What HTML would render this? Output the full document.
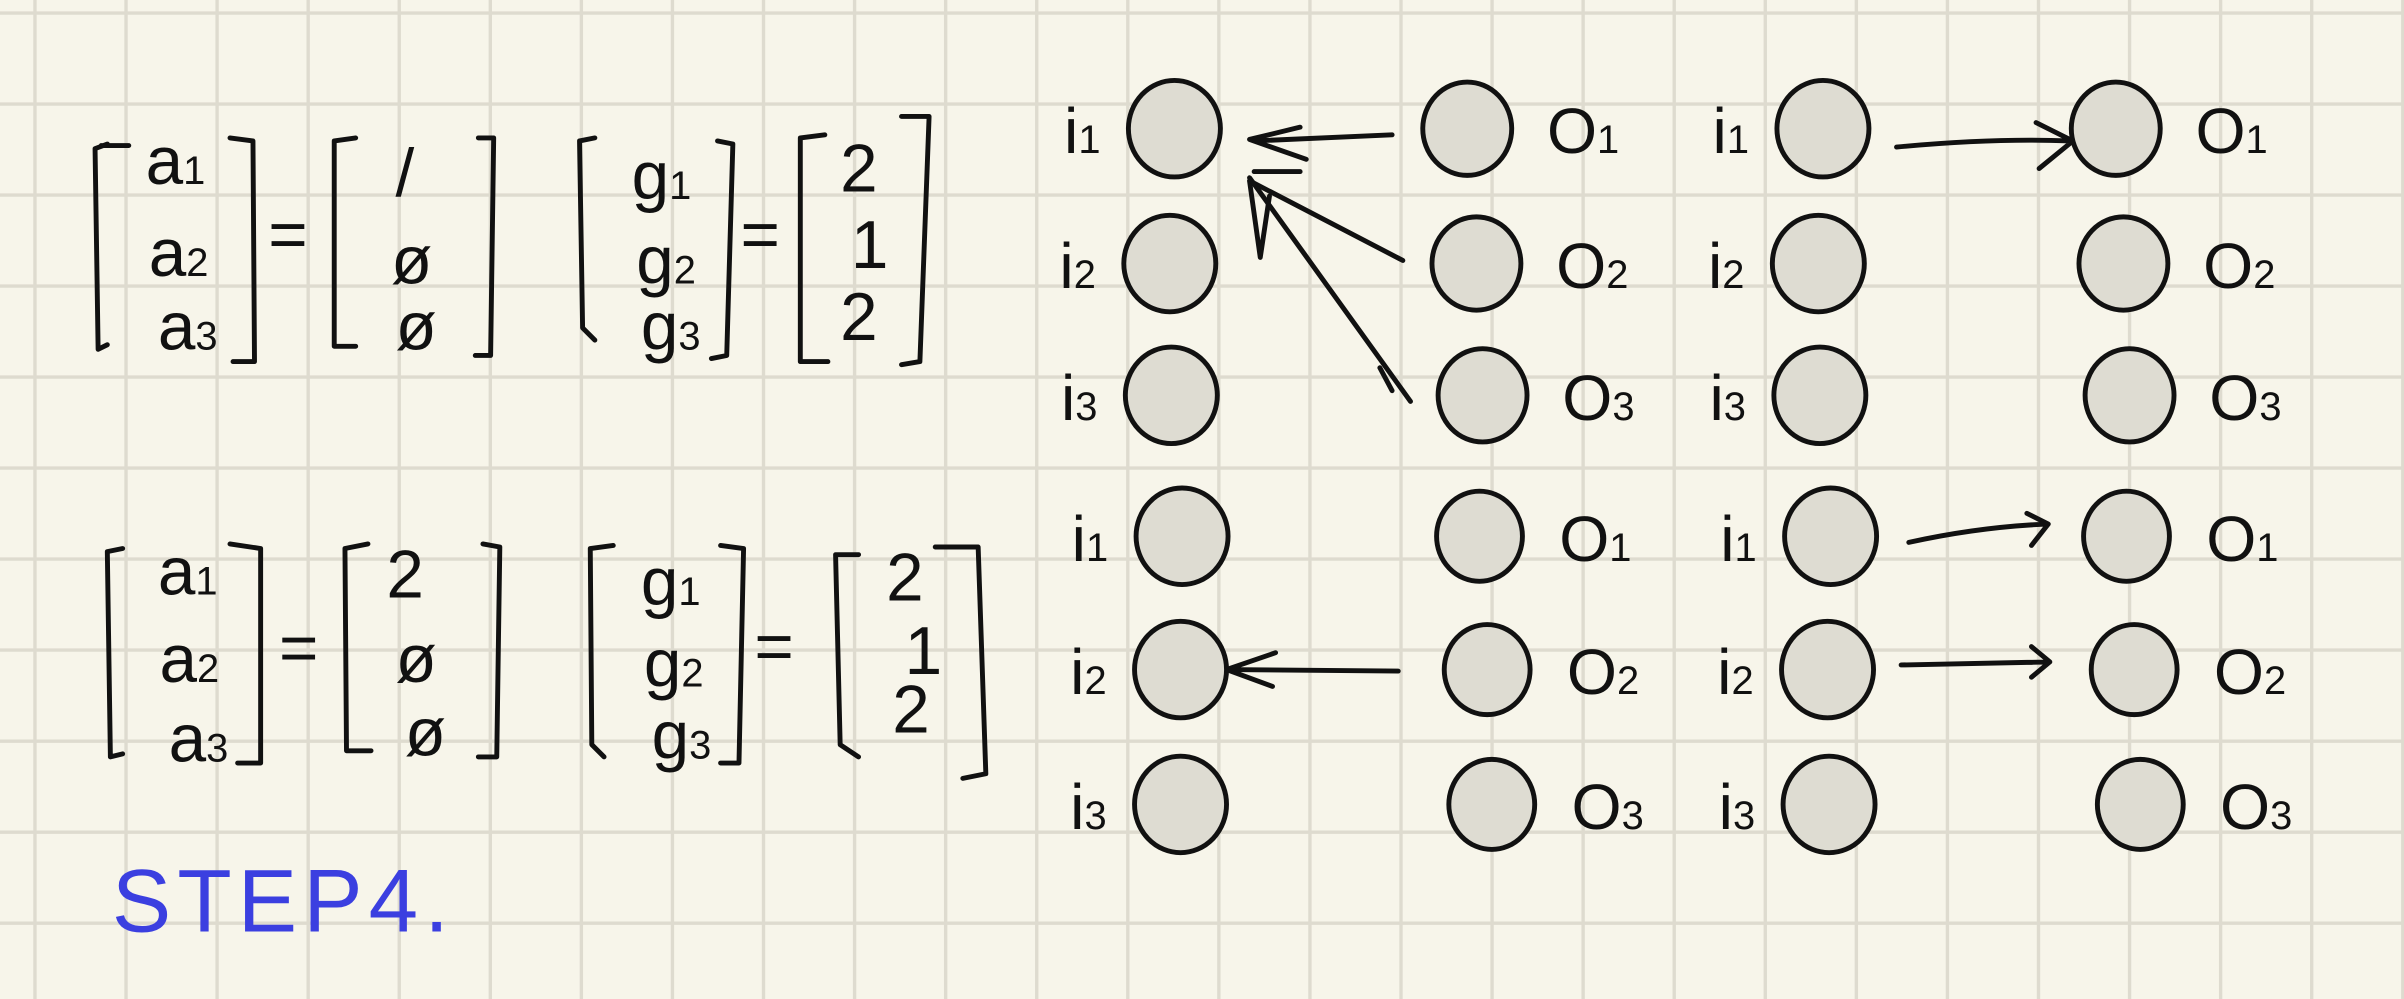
<!DOCTYPE html>
<html><head><meta charset="utf-8"><style>
html,body{margin:0;padding:0;background:#f7f5ea;}
svg{display:block;}
text{font-family:"Liberation Sans",sans-serif;fill:#111;}
</style></head><body>
<svg id="s" width="2404" height="999" viewBox="0 0 1568 652" preserveAspectRatio="none" xmlns="http://www.w3.org/2000/svg">
<rect width="1568" height="652" fill="#f7f5ea"/>
<g id="grid" stroke="#dedbcf" stroke-width="2.2"></g>
<g id="ink" fill="none" stroke="#111" stroke-width="3.2" stroke-linecap="round" stroke-linejoin="round">
<!-- matrix row 1 -->
<path d="M70 94 L62 97 L64 228 L70 225 M66 95 L84 95 M150 90 L165 92 L166 236 L152 236"/>
<path d="M232 90 L218 92 L218 226 L232 226 M312 90 L322 90 L320 232 L310 232"/>
<path d="M388 90 L378 92 L380 214 L388 222 M468 92 L478 94 L474 232 L464 234"/>
<path d="M538 88 L522 90 L522 236 L540 236 M588 76 L606 76 L600 236 L588 238"/>
<path d="M80 358 L70 360 L72 494 L80 492 M150 355 L170 358 L170 498 L155 498"/>
<path d="M240 355 L225 358 L226 490 L242 490 M315 355 L326 357 L324 494 L312 494"/>
<path d="M400 356 L385 358 L386 486 L394 494 M470 356 L485 358 L482 498 L470 498"/>
<path d="M560 362 L545 362 L548 486 L560 494 M610 357 L638 357 L643 505 L628 508"/>
<!-- arrows -->
<path d="M908 88 L818 92 M848 83 L815 91 L852 104"/>
<path d="M915 170 L815 118 M818 112 L848 112 M815 118 L822 168 L828 128"/>
<path d="M920 262 L815 116 M900 240 L908 255"/>
<path d="M912 438 L800 437 M832 426 L800 437 L830 448"/>
<path d="M1237 96 Q1300 90 1350 92 M1328 80 L1352 92 L1330 110"/>
<path d="M1245 354 Q1290 344 1335 342 M1322 335 L1336 342 L1325 356"/>
<path d="M1240 434 L1337 432 M1325 422 L1337 432 L1325 442"/>
</g>
<g id="nodes" fill="#dedcd2" stroke="#111" stroke-width="3.2"></g>
<g id="labels" font-size="44">
<text x="95" y="120">a<tspan font-size="26">1</tspan></text>
<text x="97" y="180">a<tspan font-size="26">2</tspan></text>
<text x="103" y="228">a<tspan font-size="26">3</tspan></text>
<text x="175" y="168">=</text>
<text x="258" y="128">/</text><text x="255" y="185">ø</text><text x="258" y="228">ø</text>
<text x="412" y="130">g<tspan font-size="26">1</tspan></text>
<text x="415" y="185">g<tspan font-size="26">2</tspan></text>
<text x="418" y="228">g<tspan font-size="26">3</tspan></text>
<text x="483" y="168">=</text>
<text x="548" y="125">2</text><text x="555" y="175">1</text><text x="548" y="222">2</text>
<text x="103" y="388">a<tspan font-size="26">1</tspan></text>
<text x="104" y="445">a<tspan font-size="26">2</tspan></text>
<text x="110" y="497">a<tspan font-size="26">3</tspan></text>
<text x="182" y="438">=</text>
<text x="252" y="390">2</text><text x="258" y="445">ø</text><text x="264" y="493">ø</text>
<text x="418" y="395">g<tspan font-size="26">1</tspan></text>
<text x="420" y="448">g<tspan font-size="26">2</tspan></text>
<text x="425" y="495">g<tspan font-size="26">3</tspan></text>
<text x="492" y="437">=</text>
<text x="578" y="392">2</text><text x="590" y="440">1</text><text x="582" y="478">2</text>
<text x="73" y="608" font-size="58" style="fill:#3b3fe0" letter-spacing="4">STEP4.</text>
</g>
</svg>
<script>
var NS="http://www.w3.org/2000/svg";
var g=document.getElementById('grid');
for(var x=22.8;x<1568;x+=59.4){var l=document.createElementNS(NS,'line');l.setAttribute('x1',x);l.setAttribute('x2',x);l.setAttribute('y1',0);l.setAttribute('y2',652);

g.appendChild(l);}
for(var y=8.5;y<652;y+=59.4){var l=document.createElementNS(NS,'line');l.setAttribute('y1',y);l.setAttribute('y2',y);l.setAttribute('x1',0);l.setAttribute('x2',1568);

g.appendChild(l);}
var rows=[84,172,258,350,437,525];
var colA=[766,763,764,771,770,770];
var colB=[957,963,967,965,970,973];
var colC=[1189,1186,1187,1194,1192,1193];
var colD=[1380,1385,1389,1387,1392,1396];
var inLabels=['i1','i2','i3','i1','i2','i3'];
var outLabels=['O1','O2','O3','O1','O2','O3'];
var nodes=document.getElementById('nodes'),labels=document.getElementById('labels');
function circ(cx,cy,r,name){var c=document.createElementNS(NS,'ellipse');c.setAttribute('cx',cx);c.setAttribute('cy',cy);c.setAttribute('rx',r);c.setAttribute('ry',r*1.05);

nodes.appendChild(c);}
function lab(x,y,s,name){var t=document.createElementNS(NS,'text');t.setAttribute('x',x);t.setAttribute('y',y);t.setAttribute('font-size','42');
t.textContent=s.charAt(0);var sp=document.createElementNS(NS,'tspan');sp.setAttribute('font-size','26');sp.textContent=s.charAt(1);t.appendChild(sp);

labels.appendChild(t);}
for(var i=0;i<6;i++){
 var r=i<3?29:28;
 circ(colA[i],rows[i],30,'input-node-left');
 circ(colB[i],rows[i],r,'output-node-left');
 circ(colC[i],rows[i],30,'input-node-right');
 circ(colD[i],rows[i],r,'output-node-right');
 lab(colA[i]-72,rows[i]+16,inLabels[i],'input-label');
 lab(colB[i]+52,rows[i]+16,outLabels[i],'output-label');
 lab(colC[i]-72,rows[i]+16,inLabels[i],'input-label');
 lab(colD[i]+52,rows[i]+16,outLabels[i],'output-label');
}
</script>
</body></html>
